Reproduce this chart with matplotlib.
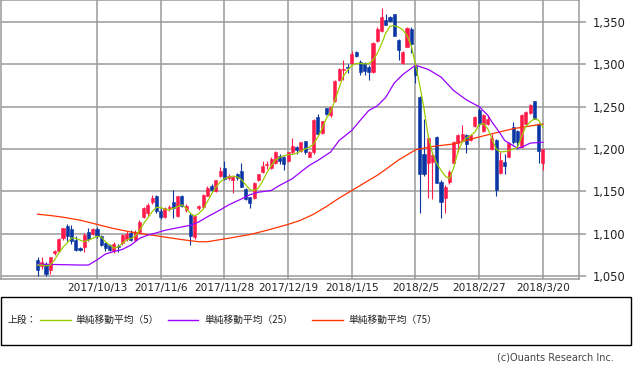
import matplotlib
matplotlib.use("Agg")
import matplotlib.pyplot as plt
from matplotlib.lines import Line2D
from matplotlib.patches import Rectangle

plt.rcParams['font.family'] = ['DejaVu Sans', 'Noto Sans CJK JP']

# ---- data ----
opens = [1069, 1062, 1064, 1057, 1077, 1079, 1095, 1109, 1106, 1093,
         1083, 1084, 1102, 1100, 1106, 1097, 1089, 1087, 1079, 1086,
         1089, 1094, 1101, 1093, 1102, 1120, 1124, 1137, 1144, 1127,
         1120, 1130, 1137, 1121, 1144, 1128, 1122, 1096, 1130, 1131,
         1145, 1156, 1151, 1168, 1178, 1166, 1164, 1170, 1174, 1153,
         1143, 1142, 1164, 1173, 1181, 1178, 1184, 1192, 1190, 1186,
         1196, 1202, 1198, 1209, 1191, 1196, 1238, 1219, 1248, 1240,
         1257, 1281, 1293, 1297, 1302, 1315, 1303, 1302, 1297, 1291,
         1327, 1339, 1352, 1356, 1359, 1329, 1302, 1321, 1342, 1298,
         1262, 1194, 1183, 1185, 1214, 1161, 1142, 1161, 1183, 1207,
         1211, 1216, 1211, 1227, 1246, 1221, 1230, 1200, 1211, 1172,
         1185, 1191, 1226, 1221, 1202, 1230, 1242, 1257, 1230, 1183]
highs = [1072, 1072, 1066, 1073, 1081, 1095, 1107, 1112, 1110, 1097,
         1084, 1101, 1107, 1107, 1108, 1099, 1090, 1088, 1090, 1088,
         1100, 1103, 1104, 1104, 1116, 1131, 1136, 1146, 1146, 1130,
         1131, 1134, 1152, 1145, 1146, 1135, 1124, 1122, 1134, 1147,
         1156, 1159, 1164, 1179, 1186, 1170, 1168, 1172, 1183, 1154,
         1143, 1161, 1171, 1186, 1186, 1190, 1198, 1194, 1192, 1197,
         1213, 1203, 1208, 1210, 1198, 1236, 1241, 1233, 1249, 1251,
         1281, 1296, 1305, 1300, 1316, 1316, 1305, 1303, 1299, 1326,
         1344, 1367, 1360, 1357, 1359, 1330, 1316, 1344, 1344, 1300,
         1263, 1236, 1216, 1196, 1215, 1163, 1157, 1175, 1210, 1218,
         1228, 1218, 1218, 1239, 1248, 1241, 1240, 1218, 1212, 1196,
         1194, 1208, 1232, 1222, 1241, 1245, 1253, 1257, 1231, 1200]
lows = [1050, 1058, 1050, 1052, 1075, 1078, 1092, 1091, 1088, 1079,
        1080, 1078, 1091, 1099, 1095, 1085, 1080, 1079, 1077, 1078,
        1087, 1091, 1091, 1091, 1101, 1118, 1121, 1135, 1125, 1117,
        1118, 1127, 1118, 1120, 1131, 1126, 1087, 1094, 1128, 1130,
        1144, 1150, 1149, 1167, 1163, 1163, 1148, 1163, 1155, 1140,
        1130, 1141, 1162, 1172, 1177, 1177, 1182, 1182, 1175, 1185,
        1194, 1194, 1197, 1194, 1190, 1194, 1217, 1218, 1240, 1238,
        1256, 1280, 1282, 1290, 1300, 1309, 1288, 1287, 1281, 1290,
        1326, 1338, 1346, 1350, 1333, 1305, 1300, 1320, 1313, 1278,
        1125, 1168, 1142, 1141, 1160, 1119, 1124, 1159, 1182, 1197,
        1208, 1195, 1210, 1226, 1227, 1220, 1228, 1199, 1145, 1171,
        1170, 1190, 1206, 1200, 1201, 1229, 1241, 1235, 1184, 1175]
closes = [1057, 1066, 1052, 1072, 1080, 1094, 1107, 1097, 1091, 1081,
          1081, 1099, 1094, 1106, 1097, 1087, 1083, 1081, 1088, 1084,
          1098, 1100, 1093, 1102, 1114, 1130, 1134, 1142, 1127, 1120,
          1130, 1132, 1130, 1144, 1133, 1133, 1097, 1121, 1133, 1146,
          1154, 1152, 1163, 1174, 1165, 1168, 1167, 1166, 1155, 1141,
          1136, 1160, 1170, 1180, 1182, 1188, 1197, 1186, 1182, 1196,
          1203, 1199, 1208, 1196, 1196, 1234, 1218, 1233, 1241, 1250,
          1280, 1295, 1295, 1296, 1312, 1310, 1291, 1292, 1291, 1325,
          1342, 1356, 1347, 1351, 1334, 1317, 1314, 1343, 1324, 1288,
          1170, 1170, 1213, 1193, 1160, 1138, 1155, 1173, 1208, 1216,
          1218, 1206, 1217, 1238, 1229, 1240, 1236, 1213, 1152, 1187,
          1180, 1207, 1208, 1208, 1240, 1244, 1252, 1236, 1198, 1200]

ma5 = [1063, 1063, 1062, 1063, 1069, 1077, 1084, 1089, 1095, 1094.5,
       1092.5, 1090.5, 1092.5, 1094.5, 1097, 1096, 1090.5, 1086.6, 1083, 1084.6,
       1088.6, 1092.5, 1094.5, 1097, 1104, 1112, 1119, 1126, 1131, 1131,
       1129, 1128, 1130, 1132, 1134, 1130, 1124, 1121, 1124, 1129,
       1138, 1147, 1155, 1161, 1165, 1167, 1168, 1167, 1164, 1158,
       1152, 1151, 1154, 1162, 1172, 1180, 1187, 1190, 1192, 1193.5,
       1193.5, 1195, 1197.5, 1200, 1202, 1206, 1214, 1224, 1236, 1244,
       1257, 1272, 1286, 1293, 1298.5, 1301, 1301, 1300.5, 1301, 1305,
       1313, 1324, 1337, 1345, 1345.5, 1344, 1341, 1334, 1322, 1300,
       1275, 1248, 1215, 1195, 1183, 1175, 1168, 1165, 1178, 1197,
       1208, 1213, 1216, 1220, 1229, 1230, 1224, 1212, 1200, 1196.5,
       1197, 1198, 1200, 1202, 1215, 1227, 1232, 1235.7, 1234, 1226]

ma25_idx = [0, 5, 10, 12, 14, 16, 18, 20, 22, 24, 26, 28, 30, 32, 34, 36, 38, 40,
            43, 45, 48, 50, 52, 55, 57, 60, 62, 64, 66, 69, 71, 74, 76, 78, 80,
            82, 84, 86, 89, 92, 95, 98, 101, 104, 106, 107, 109, 110, 112, 113,
            114, 116, 119]
ma25_val = [1064, 1063.5, 1063, 1063, 1069, 1076, 1079, 1081.5, 1086.6, 1094.5,
            1098.4, 1101, 1104, 1106, 1108, 1110, 1114, 1120,
            1128, 1134, 1141, 1146, 1149, 1151, 1157, 1165, 1173, 1180.7, 1186.5,
            1196.4, 1210, 1222, 1234, 1245.5, 1251,
            1261, 1278, 1288, 1299, 1294, 1285, 1269, 1258, 1250, 1240, 1232,
            1218, 1210, 1204, 1201, 1202, 1207, 1208]

ma75_idx = [0, 3, 6, 10, 14, 18, 22, 26, 30, 34, 38, 40, 43, 46, 50, 54, 59, 62,
            65, 68, 71, 74, 77, 80, 82, 85, 89, 93, 98, 103, 107, 112, 117, 119]
ma75_val = [1123, 1121.5, 1119.5, 1116, 1111, 1106, 1102, 1099, 1096, 1093,
            1090.5, 1090.5, 1093, 1095.5, 1099, 1104, 1111, 1116,
            1123, 1132, 1142, 1151, 1160, 1169, 1176, 1187, 1199, 1203, 1206,
            1213, 1218, 1224, 1228, 1229.5]

tick_idx = [14, 29, 44, 59, 74, 89, 104, 119]
tick_labels = ['2017/10/13', '2017/11/6', '2017/11/28', '2017/12/19',
               '2018/1/15', '2018/2/5', '2018/2/27', '2018/3/20']
y_ticks = [1050, 1100, 1150, 1200, 1250, 1300, 1350]
y_labels = ['1,050', '1,100', '1,150', '1,200', '1,250', '1,300', '1,350']

legend_labels = ['単純移動平均（5）', '単純移動平均（25）', '単純移動平均（75）']

# ---- style ----
UP = '#ff1a4a'
DOWN = '#0a36a3'
C5 = '#99cc00'
C25 = '#9900ff'
C75 = '#ff3300'
GRID = '#9a9a9a'

W, H = 633, 370
fig = plt.figure(figsize=(W / 100, H / 100), dpi=100)
ax = fig.add_axes([1 / W, 1 - 279 / H, 578 / W, 279 / H])
ax.set_xlim(-8.6, 127.5)
ax.set_ylim(1046.5, 1376)

ax.set_yticks(y_ticks)
ax.set_yticklabels(y_labels)
ax.set_xticks(tick_idx)
ax.set_xticklabels(tick_labels)
ax.grid(True, color=GRID, lw=1.1, zorder=0)
ax.set_axisbelow(True)
for s in ax.spines.values():
    s.set_color(GRID)
    s.set_linewidth(1.1)
ax.yaxis.tick_right()
ax.tick_params(axis='y', length=5, width=1.1, color=GRID, pad=5,
               labelsize=8.3, labelcolor='#222222')
ax.tick_params(axis='x', length=0, pad=3, labelsize=7.6, labelcolor='#222222')

xs = list(range(len(opens)))
for i in xs:
    o, h, l, c = opens[i], highs[i], lows[i], closes[i]
    col = UP if c >= o else DOWN
    ax.vlines(i, l, h, color=col, lw=0.8, zorder=2)
    bottom = min(o, c)
    height = max(abs(c - o), 0.8)
    ax.bar(i, height, bottom=bottom, width=0.72, color=col,
           edgecolor=col, linewidth=0.4, zorder=3)

ax.plot(ma75_idx, ma75_val, color=C75, lw=0.9, zorder=4)
ax.plot(ma25_idx, ma25_val, color=C25, lw=0.9, zorder=4)
ax.plot(xs, ma5, color=C5, lw=0.9, zorder=5)

# ---- legend box ----
def fx(px):
    return px / W

def fy(py):
    return 1 - py / H

fig.add_artist(Rectangle((fx(1), fy(345)), fx(631) - fx(1), fy(297) - fy(345),
                         transform=fig.transFigure, fill=False,
                         edgecolor='black', lw=1.0))
jp = ['Noto Sans CJK JP', 'DejaVu Sans']
ly = 320
fig.text(fx(8), fy(ly), '上段：', family=jp, fontsize=7, va='center',
         ha='left', color='#222222')
legend_items = [(40, 71, 75, C5), (168, 198, 204, C25), (312, 343, 348, C75)]
for (x0, x1, xt, col), lab in zip(legend_items, legend_labels):
    fig.add_artist(Line2D([fx(x0), fx(x1)], [fy(ly), fy(ly)],
                          transform=fig.transFigure, color=col, lw=1.0))
    fig.text(fx(xt), fy(ly), lab, family=jp, fontsize=7, va='center',
             ha='left', color='#222222')

fig.text(fx(614), fy(357), '(c)Ouants Research Inc.', fontsize=7,
         ha='right', va='center', color='#444444')

fig.savefig('out.png', dpi=100)
